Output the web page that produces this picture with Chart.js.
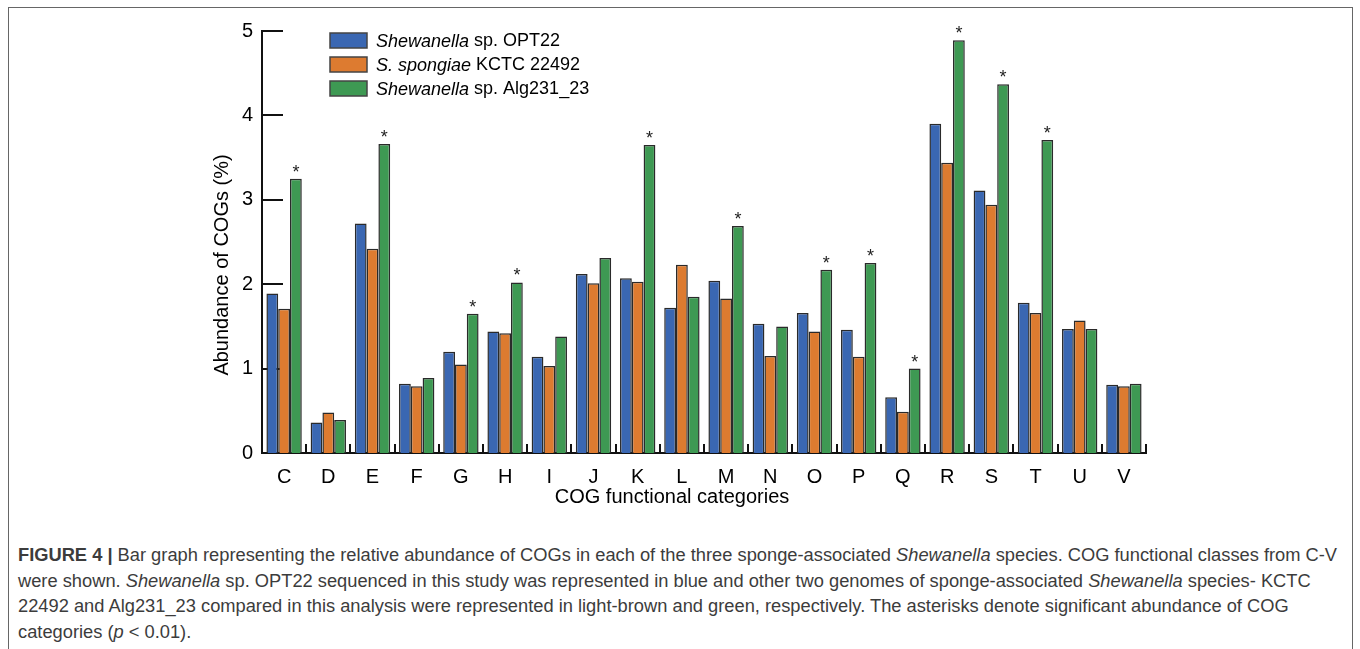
<!DOCTYPE html>
<html>
<head>
<meta charset="utf-8">
<script src="https://cdn.jsdelivr.net/npm/chart.js@4.4.1/dist/chart.umd.min.js"></script>
<style>
  html, body { margin: 0; padding: 0; background: #fff; }
  body { width: 1360px; height: 649px; position: relative; overflow: hidden; font-family: "Liberation Sans", Arial, sans-serif; }
  #frame { position: absolute; left: 8px; top: 7px; width: 1343px; height: 700px; border: 1px solid #666; }
  #wrap { position: absolute; left: 0; top: 0; width: 1360px; height: 520px; }
  #caption { position: absolute; left: 18px; top: 542px; color: #3c3c3c; font-family: "Liberation Sans", Arial, sans-serif; font-size: 18.3px; line-height: 25.5px; }
  #caption div { white-space: nowrap; }
</style>
</head>
<body>
<div id="frame"></div>
<div id="wrap"><canvas id="chart" width="1360" height="520"></canvas></div>
<div id="caption">
  <div><b>FIGURE 4 |</b> Bar graph representing the relative abundance of COGs in each of the three sponge-associated <i>Shewanella</i> species. COG functional classes from C-V</div>
  <div>were shown. <i>Shewanella</i> sp. OPT22 sequenced in this study was represented in blue and other two genomes of sponge-associated <i>Shewanella</i> species- KCTC</div>
  <div>22492 and Alg231_23 compared in this analysis were represented in light-brown and green, respectively. The asterisks denote significant abundance of COG</div>
  <div>categories (<i>p</i> &lt; 0.01).</div>
</div>
<script>
const categories = ['C', 'D', 'E', 'F', 'G', 'H', 'I', 'J', 'K', 'L', 'M', 'N', 'O', 'P', 'Q', 'R', 'S', 'T', 'U', 'V'];
const opt22    = [1.89, 0.36, 2.72, 0.82, 1.20, 1.44, 1.14, 2.12, 2.07, 1.72, 2.04, 1.53, 1.66, 1.46, 0.66, 3.90, 3.11, 1.78, 1.47, 0.81];
const spongiae = [1.71, 0.48, 2.42, 0.79, 1.05, 1.42, 1.03, 2.01, 2.03, 2.23, 1.83, 1.15, 1.44, 1.14, 0.49, 3.44, 2.94, 1.66, 1.57, 0.79];
const alg231   = [3.25, 0.39, 3.66, 0.89, 1.65, 2.02, 1.38, 2.31, 3.65, 1.85, 2.69, 1.50, 2.17, 2.25, 1.00, 4.89, 4.37, 3.71, 1.47, 0.82];
// categories marked with an asterisk (p < 0.01)
const significant = ['C', 'E', 'G', 'H', 'K', 'M', 'O', 'P', 'Q', 'R', 'S', 'T'];
const yTicks = [0, 1, 2, 3, 4, 5];

const legendItems = [
    { italic: 'Shewanella', rest: ' sp. OPT22', color: '#3a67b2' },
    { italic: 'S. spongiae', rest: ' KCTC 22492', color: '#dd7b30' },
    { italic: 'Shewanella', rest: ' sp. Alg231_23', color: '#3e9953' }
];

// ticks, axis titles, legend and asterisks
const extras = {
    id: 'extras',
    beforeDatasetsDraw(chart) {
        const { ctx, scales: { x, y }, chartArea } = chart;
        ctx.save();
        ctx.strokeStyle = '#111';
        ctx.lineWidth = 2;
        // inward y ticks
        yTicks.slice(1).forEach(v => {
            const py = Math.round(y.getPixelForValue(v));
            ctx.beginPath();
            ctx.moveTo(chartArea.left, py);
            ctx.lineTo(chartArea.left + 21, py);
            ctx.stroke();
        });
        // short ticks between categories
        const half = (x.getPixelForValue(1) - x.getPixelForValue(0)) / 2;
        categories.forEach((c, i) => {
            const px = Math.round(x.getPixelForValue(i) + half);
            ctx.beginPath();
            ctx.moveTo(px, chartArea.bottom);
            ctx.lineTo(px, chartArea.bottom - 9);
            ctx.stroke();
        });
        ctx.restore();
    },
    afterDraw(chart) {
        const { ctx, scales: { x, y } } = chart;
        ctx.save();
        ctx.fillStyle = '#000';
        ctx.font = '20px "Liberation Sans", Arial, sans-serif';
        ctx.textAlign = 'center';
        ctx.textBaseline = 'middle';
        ctx.fillText('COG functional categories', 672, 497);
        ctx.translate(222, 265);
        ctx.rotate(-Math.PI / 2);
        ctx.fillText('Abundance of COGs (%)', 0, 0);
        ctx.restore();

        // asterisks over the green bars
        const meta = chart.getDatasetMeta(2);
        ctx.save();
        ctx.fillStyle = '#222';
        ctx.font = '18px "Liberation Sans", Arial, sans-serif';
        ctx.textAlign = 'center';
        ctx.textBaseline = 'middle';
        significant.forEach(c => {
            const bar = meta.data[categories.indexOf(c)];
            ctx.fillText('*', bar.x, bar.y - 6);
        });
        ctx.restore();

        // legend
        ctx.save();
        ctx.textBaseline = 'middle';
        legendItems.forEach((it, i) => {
            const cy = 40.5 + i * 24;
            ctx.fillStyle = it.color;
            ctx.fillRect(330, cy - 7.5, 37, 15);
            ctx.strokeStyle = '#444';
            ctx.lineWidth = 1.5;
            ctx.strokeRect(330, cy - 7.5, 37, 15);
            ctx.fillStyle = '#000';
            ctx.font = 'italic 18px "Liberation Sans", Arial, sans-serif';
            ctx.fillText(it.italic, 376, cy + 1);
            const w = ctx.measureText(it.italic).width;
            ctx.font = '18px "Liberation Sans", Arial, sans-serif';
            ctx.fillText(it.rest, 376 + w, cy + 1);
        });
        ctx.restore();
    }
};

const bar = (label, data, color) => ({
    label, data,
    backgroundColor: color,
    borderColor: '#2a2a2a',
    borderWidth: 1.5,
    borderSkipped: 'bottom',
    categoryPercentage: 0.8,
    barPercentage: 1.0
});

new Chart(document.getElementById('chart').getContext('2d'), {
    type: 'bar',
    data: {
        labels: categories,
        datasets: [
            bar('Shewanella sp. OPT22', opt22, legendItems[0].color),
            bar('S. spongiae KCTC 22492', spongiae, legendItems[1].color),
            bar('Shewanella sp. Alg231_23', alg231, legendItems[2].color)
        ]
    },
    options: {
        responsive: false,
        animation: false,
        devicePixelRatio: 1,
        layout: { padding: { left: 0, top: 31, right: 214, bottom: 0 } },
        plugins: { legend: { display: false }, tooltip: { enabled: false } },
        scales: {
            x: {
                grid: { display: false, drawTicks: false },
                border: { display: true, color: '#111', width: 2 },
                ticks: { color: '#000', padding: 12, font: { size: 20, family: '"Liberation Sans", Arial, sans-serif' } },
                afterFit(s) { s.height = 67; }
            },
            y: {
                min: 0, max: 5,
                grid: { display: false, drawTicks: false },
                border: { display: true, color: '#111', width: 2 },
                afterBuildTicks(s) { s.ticks = yTicks.map(v => ({ value: v })); },
                ticks: { color: '#000', padding: 9, font: { size: 20, family: '"Liberation Sans", Arial, sans-serif' } },
                afterFit(s) { s.width = 262; }
            }
        }
    },
    plugins: [extras]
});
</script>
</body>
</html>
